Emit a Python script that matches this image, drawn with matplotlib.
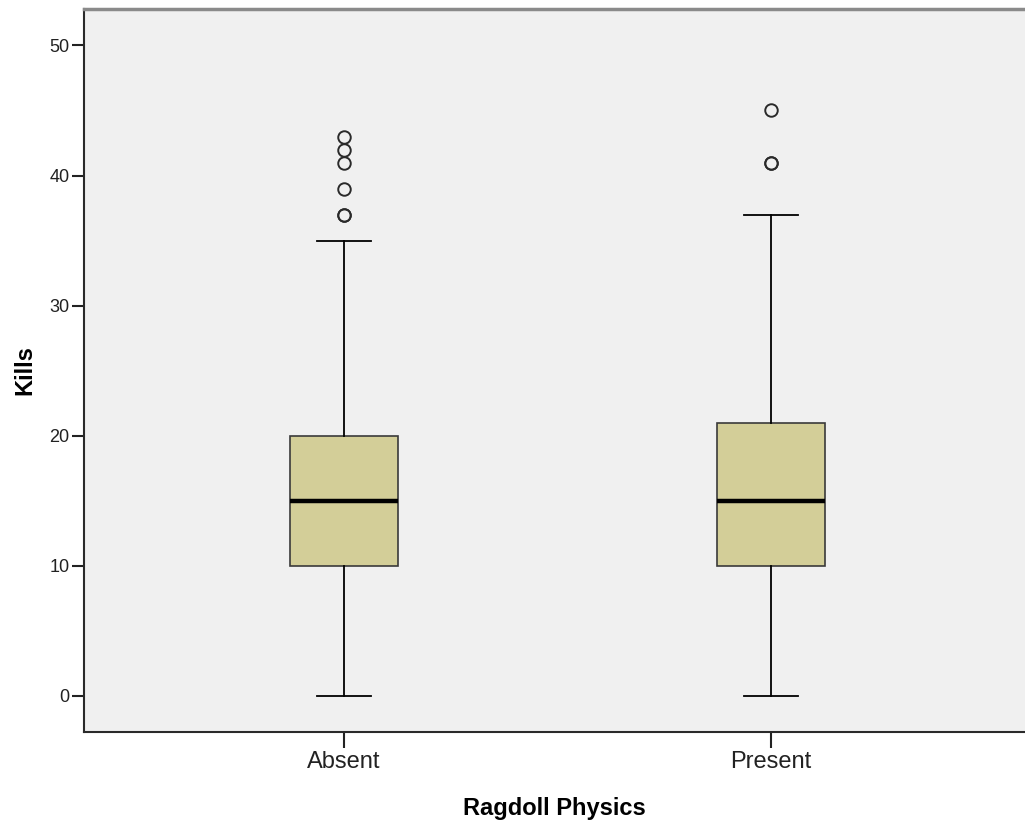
import matplotlib.pyplot as plt

plt.rcParams['font.family'] = ['Liberation Sans', 'DejaVu Sans']

# Kills by ragdoll physics group (five-number summary + outliers)
groups = ['Absent', 'Present']
whislo = [0, 0]
q1 = [10, 10]
med = [15, 15]
q3 = [20, 21]
whishi = [35, 37]
fliers = [[37, 37, 39, 41, 42, 43], [41, 41, 45]]

stats = []
for i, g in enumerate(groups):
    stats.append({'label': g, 'whislo': whislo[i], 'q1': q1[i], 'med': med[i],
                  'q3': q3[i], 'whishi': whishi[i], 'fliers': fliers[i]})

fig = plt.figure(figsize=(10.25, 8.23), dpi=100)
ax = fig.add_axes([84 / 1025, 1 - 732 / 823, 1 - 84 / 1025, (732 - 9) / 823])
ax.set_facecolor('#f0f0f0')

ax.bxp(stats, positions=[1, 2], widths=0.253, capwidths=0.125, patch_artist=True,
       boxprops=dict(facecolor='#d3ce98', edgecolor='#3a3a3a', linewidth=1.2),
       medianprops=dict(color='black', linewidth=3.2),
       whiskerprops=dict(color='black', linewidth=1.3),
       capprops=dict(color='black', linewidth=1.3),
       flierprops=dict(marker='o', markerfacecolor='none', markeredgecolor='#2a2a2a',
                       markersize=9, markeredgewidth=1.4))

ax.set_xlim(0.391, 2.595)
ax.set_ylim(-2.77, 52.8)
ax.set_yticks([0, 10, 20, 30, 40, 50])
ax.set_xticks([1, 2])
ax.set_xticklabels(groups, fontsize=17)
ax.tick_params(axis='y', length=9, width=1.5, pad=1.5, labelsize=13, colors='#222222')
ax.tick_params(axis='x', length=11.5, width=1.5, pad=2.5, colors='#222222')

for s in ['left', 'bottom']:
    ax.spines[s].set_color('#2a2a2a')
    ax.spines[s].set_linewidth(1.5)
ax.spines['top'].set_color('#8a8a8a')
ax.spines['top'].set_linewidth(2.5)
ax.spines['right'].set_visible(False)

ax.set_ylabel('Kills', fontsize=17, fontweight='bold', labelpad=9)
ax.set_xlabel('Ragdoll Physics', fontsize=17, fontweight='bold', labelpad=17)

plt.savefig('out.png', dpi=100)
